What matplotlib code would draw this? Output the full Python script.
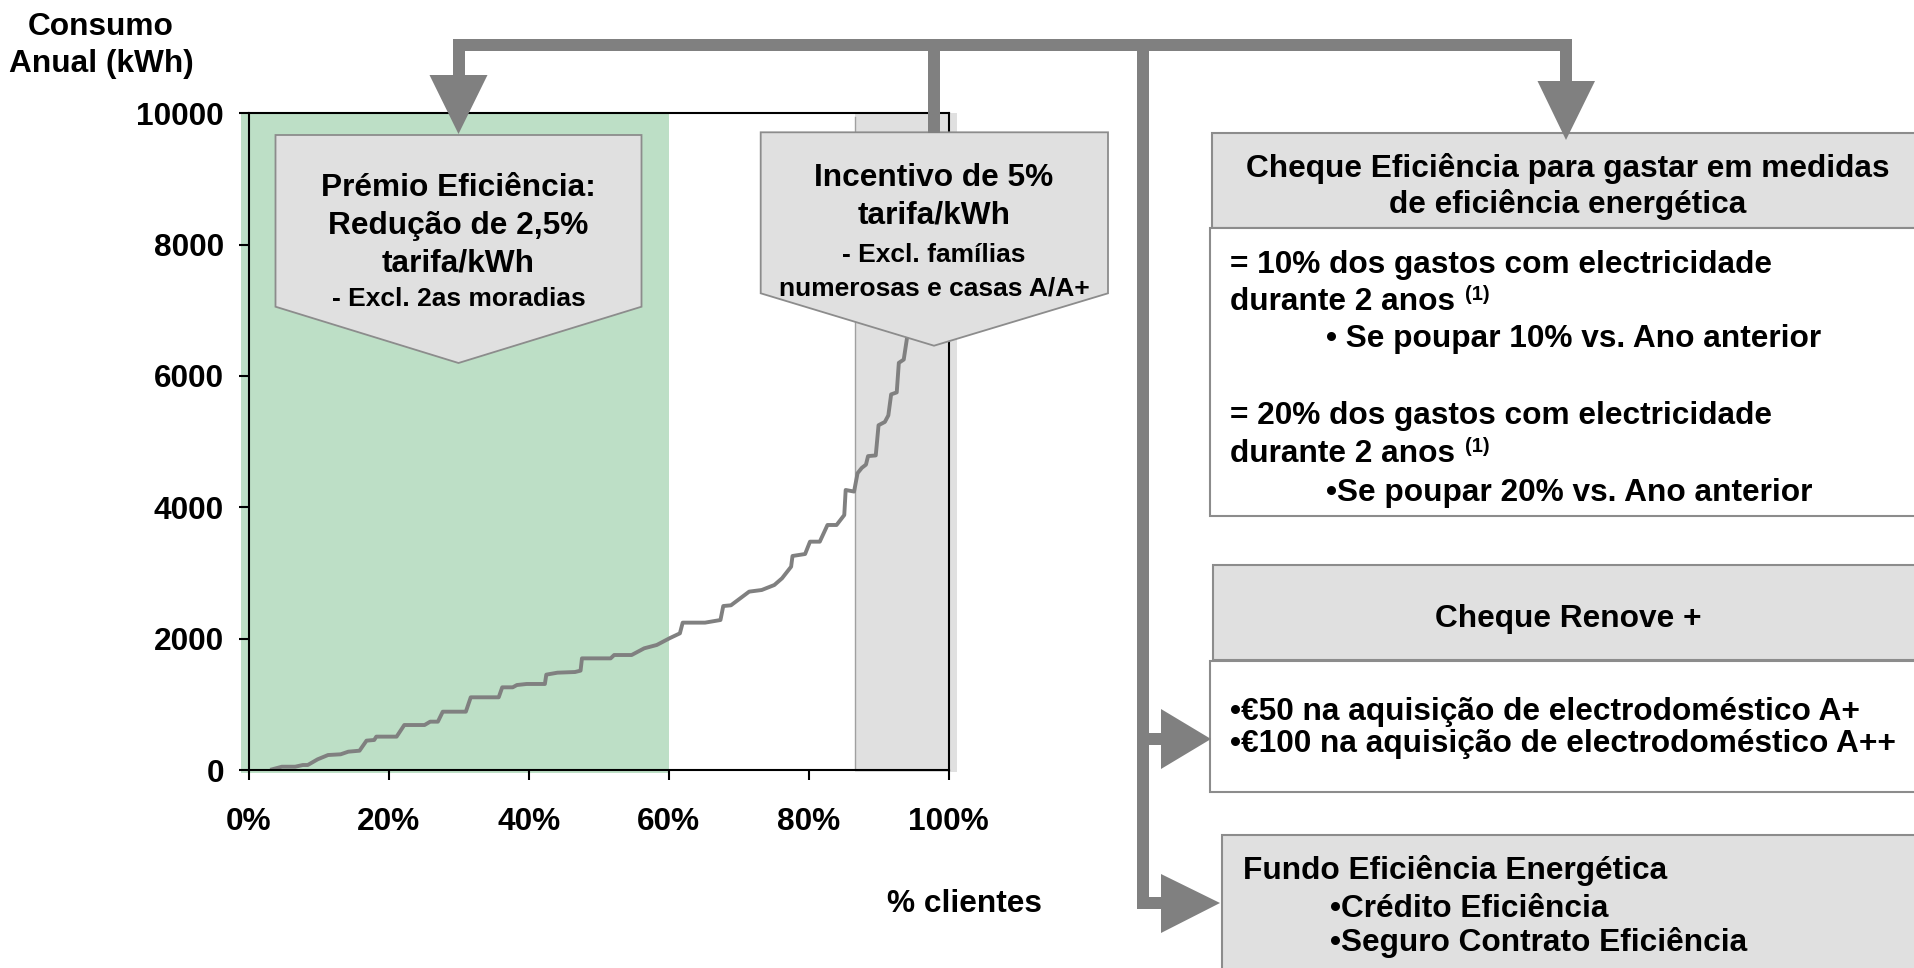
import matplotlib.pyplot as plt
from matplotlib.patches import Polygon, Rectangle

plt.rcParams["font.family"] = ["Liberation Sans", "DejaVu Sans"]
plt.rcParams["font.weight"] = "bold"

# annual consumption per client, sorted
clientes_pct = [3.3, 4.7, 6.6, 7.7, 8.4, 9.8, 11.3, 13.1, 14.2, 15.8, 16.8, 17.9, 18.2, 21.1,
                22.2, 25.1, 25.9, 27.0, 27.7, 31.0, 31.7, 35.7, 36.2, 37.7, 38.3, 39.7, 42.3,
                42.5, 44.1, 46.6, 47.4, 47.6, 51.7, 52.2, 54.7, 56.5, 58.3, 60.1, 61.6, 62.0,
                65.2, 67.4, 67.8, 68.9, 71.5, 73.3, 75.1, 76.2, 77.5, 77.7, 79.5, 80.2, 81.6,
                82.7, 84.0, 85.1, 85.3, 86.5, 87.0, 87.6, 88.2, 88.5, 89.6, 90.0, 90.9, 91.4,
                91.8, 92.6, 92.9, 93.6, 94.1, 94.6]
consumo_kwh = [10, 50, 50, 76, 76, 162, 228, 239, 279, 294, 447, 457, 508, 508,
               685, 685, 736, 736, 888, 888, 1107, 1107, 1259, 1259, 1294, 1310, 1310,
               1452, 1482, 1492, 1513, 1700, 1700, 1751, 1751, 1853, 1904, 2005, 2081, 2244,
               2244, 2284, 2497, 2508, 2716, 2741, 2817, 2919, 3096, 3259, 3289, 3477, 3477,
               3731, 3731, 3883, 4264, 4240, 4520, 4600, 4650, 4780, 4790, 5250, 5300, 5400,
               5720, 5750, 6200, 6250, 6600, 7000]

x_ticks = [0, 20, 40, 60, 80, 100]
x_tick_labels = ["0%", "20%", "40%", "60%", "80%", "100%"]
y_ticks = [0, 2000, 4000, 6000, 8000, 10000]

premio_zone = (0, 60)          # green band
incentivo_zone = (86.7, 100)   # grey band

GREY = "#808080"
BOX = "#E0E0E0"
EDGE = "#8C8C8C"
BIG = 22.8
SMALL = 19

W, H = 1914, 968
fig = plt.figure(figsize=(W / 100, H / 100), dpi=100)

# ---- chart ----
ax = fig.add_axes([249 / W, 1 - 770 / H, 699.5 / W, 656.7 / H], zorder=1)
ax.add_patch(Rectangle((premio_zone[0] - 1.1, -50), premio_zone[1] - premio_zone[0] + 1.1, 10050,
                       facecolor="#BDDFC6", edgecolor="none", clip_on=False, zorder=0))
ax.add_patch(Rectangle((incentivo_zone[0], -30), incentivo_zone[1] - incentivo_zone[0] + 1.2, 10030,
                       facecolor=BOX, edgecolor="none", clip_on=False, zorder=0))
ax.plot([incentivo_zone[0]] * 2, [0, 9950], color="#A0A0A0", lw=1, zorder=1)
ax.plot(clientes_pct, consumo_kwh, color=GREY, lw=2.8, zorder=2)

ax.set_xlim(0, 100)
ax.set_ylim(0, 10000)
ax.set_xticks(x_ticks, x_tick_labels)
ax.set_yticks(y_ticks, [str(v) for v in y_ticks])
ax.tick_params(axis="both", direction="out", length=7, width=1.5, labelsize=BIG)
ax.tick_params(axis="x", pad=20)
ax.tick_params(axis="y", pad=11)
for s in ax.spines.values():
    s.set_linewidth(1.5)
    s.set_color("black")
ax.patch.set_alpha(0)

# ---- diagram overlay, in pixel coordinates ----
ov = fig.add_axes([0, 0, 1, 1], zorder=5)
ov.set_xlim(0, W)
ov.set_ylim(H, 0)
ov.axis("off")
ov.patch.set_alpha(0)


def txt(x, y, s, size=BIG, ha="left"):
    ov.text(x, y, s, ha=ha, va="baseline", fontsize=size, fontweight="bold", color="black", zorder=10)


txt(101, 35, "Consumo", ha="center")
txt(101, 71.7, "Anual (kWh)", ha="center")
txt(964, 912, "% clientes", ha="center")

# callouts on the chart
ov.add_patch(Polygon([(275.5, 135), (641.5, 135), (641.5, 306.7), (458.5, 363), (275.5, 306.7)],
                     facecolor=BOX, edgecolor=EDGE, lw=1.3, zorder=3))
txt(458.5, 195.5, "Prémio Eficiência:", ha="center")
txt(458.5, 234, "Redução de 2,5%", ha="center")
txt(458.5, 272, "tarifa/kWh", ha="center")
txt(458.5, 305.5, "- Excl. 2as moradias", SMALL, ha="center")

ov.add_patch(Polygon([(760.7, 132.3), (1108, 132.3), (1108, 293.3), (934, 345.7), (760.7, 293.3)],
                     facecolor=BOX, edgecolor=EDGE, lw=1.3, zorder=3))
txt(934, 186, "Incentivo de 5%", ha="center")
txt(934, 223.3, "tarifa/kWh", ha="center")
txt(934, 261.7, "- Excl. famílias", SMALL, ha="center")
txt(934, 295, "numerosas e casas A/A+", SMALL, ha="center")

# right-hand boxes
ov.add_patch(Rectangle((1212, 133), 800, 95, facecolor=BOX, edgecolor=EDGE, lw=1.5, zorder=3))
ov.add_patch(Rectangle((1210, 228), 800, 288, facecolor="white", edgecolor=EDGE, lw=1.5, zorder=3))
txt(1568, 177, "Cheque Eficiência para gastar em medidas", ha="center")
txt(1568, 213.5, "de eficiência energética", ha="center")
txt(1230, 272.5, "= 10% dos gastos com electricidade")
txt(1230, 310, "durante 2 anos")
txt(1465, 300.5, "(1)", 14.5)
txt(1326, 347, "• Se poupar 10% vs. Ano anterior")
txt(1230, 424, "= 20% dos gastos com electricidade")
txt(1230, 462, "durante 2 anos")
txt(1465, 452.5, "(1)", 14.5)
txt(1326, 501, "•Se poupar 20% vs. Ano anterior")

ov.add_patch(Rectangle((1213, 565), 800, 95, facecolor=BOX, edgecolor=EDGE, lw=1.5, zorder=3))
ov.add_patch(Rectangle((1210, 661), 800, 131, facecolor="white", edgecolor=EDGE, lw=1.5, zorder=3))
txt(1568, 627, "Cheque Renove +", ha="center")
txt(1230, 720, "•€50 na aquisição de electrodoméstico A+")
txt(1230, 751.7, "•€100 na aquisição de electrodoméstico A++")

ov.add_patch(Rectangle((1221.7, 835), 800, 300, facecolor=BOX, edgecolor=EDGE, lw=1.5, zorder=3))
txt(1243, 879, "Fundo Eficiência Energética")
txt(1330, 917, "•Crédito Eficiência")
txt(1330, 951, "•Seguro Contrato Eficiência")

# connectors and arrowheads
lw_px = 12 * 0.72
conn = dict(color=GREY, lw=lw_px, solid_capstyle="butt", solid_joinstyle="miter", zorder=6)
ov.plot([459, 459, 1566, 1566], [76, 45, 45, 82], **conn)
ov.plot([933.5, 933.5], [40, 133], **conn)
ov.plot([1142.5, 1142.5, 1162], [45, 903, 903], **conn)
ov.plot([1142.5, 1162], [739, 739], **conn)
for tri in ([(429.5, 75), (487.5, 75), (458.5, 134)],
            [(1537.5, 81), (1595, 81), (1566, 140)],
            [(1161, 709), (1161, 769), (1211, 739)],
            [(1161, 874), (1161, 933), (1220, 903)]):
    ov.add_patch(Polygon(tri, facecolor=GREY, edgecolor="none", zorder=7))

fig.savefig("out.png", dpi=100, facecolor="white")
